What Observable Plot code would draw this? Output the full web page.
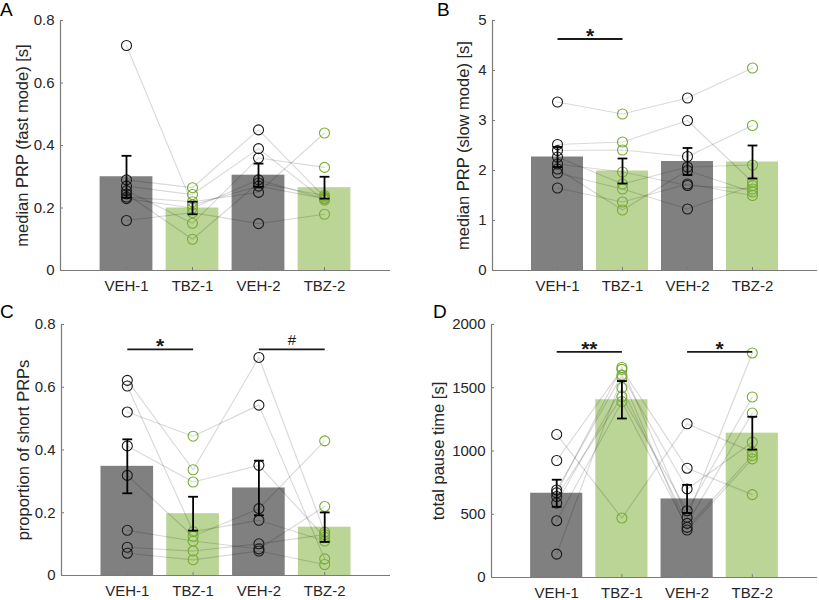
<!DOCTYPE html>
<html><head><meta charset="utf-8">
<script src="https://cdn.jsdelivr.net/npm/d3@7"></script>
<script src="https://cdn.jsdelivr.net/npm/@observablehq/plot@0.6"></script>
<style>
body{margin:0;background:#fff;}
#fig{position:relative;width:819px;height:600px;font-family:"Liberation Sans",Arial,sans-serif;overflow:hidden;}
.panel{position:absolute;}
.panel svg{overflow:visible;}
.letter{position:absolute;font-size:19px;color:#000;line-height:1;}
</style></head><body><div id="fig"></div>
<script>
// ---- categories ----
const conditions = ["VEH-1", "TBZ-1", "VEH-2", "TBZ-2"];
const groups = ["VEH", "TBZ", "VEH", "TBZ"];

// ---- Panel A: median PRP (fast mode) [s]; one value per subject (same order in each array) ----
const aVEH1 = [0.72, 0.16, 0.29, 0.27, 0.255, 0.245, 0.235, 0.23];
const aTBZ1 = [0.21, 0.185, 0.265, 0.243, 0.151, 0.10, 0.22, 0.20];
const aVEH2 = [0.27, 0.15, 0.45, 0.39, 0.36, 0.28, 0.25, 0.29];
const aTBZ2 = [0.23, 0.18, 0.235, 0.225, 0.33, 0.24, 0.44, 0.23];
const aMean = [0.30, 0.20, 0.305, 0.265];
const aSem  = [0.067, 0.02, 0.037, 0.035];

// ---- Panel B: median PRP (slow mode) [s] ----
const bVEH1 = [3.37, 2.52, 2.40, 2.27, 2.13, 2.03, 1.95, 1.65];
const bTBZ1 = [3.13, 2.57, 2.41, 1.73, 1.97, 1.21, 1.63, 1.37];
const bVEH2 = [3.45, 3.00, 2.28, 2.07, 1.70, 2.00, 1.23, 1.73];
const bTBZ2 = [4.05, 1.77, 2.90, 2.11, 1.63, 1.57, 1.70, 1.50];
const bMean = [2.27, 1.99, 2.18, 2.17];
const bSem  = [0.20, 0.25, 0.27, 0.33];

// ---- Panel C: proportion of short PRPs ----
const cVEH1 = [0.622, 0.604, 0.521, 0.413, 0.319, 0.144, 0.09, 0.071];
const cTBZ1 = [0.337, 0.14, 0.444, 0.298, 0.125, 0.11, 0.078, 0.05];
const cVEH2 = [0.695, 0.176, 0.543, 0.351, 0.213, 0.085, 0.101, 0.078];
const cTBZ2 = [0.138, 0.11, 0.053, 0.122, 0.429, 0.22, 0.13, 0.035];
const cMean = [0.348, 0.197, 0.279, 0.154];
const cSem  = [0.086, 0.054, 0.087, 0.047];

// ---- Panel D: total pause time [s] ----
const dVEH1 = [1131, 925, 692, 670, 640, 589, 449, 185];
const dTBZ1 = [470, 1645, 1600, 1660, 1430, 1500, 1390, 1580];
const dVEH2 = [1215, 864, 700, 475, 528, 428, 396, 375];
const dTBZ2 = [991, 655, 1070, 1775, 1427, 1300, 964, 938];
const dMean = [666, 1405, 621, 1141];
const dSem  = [107, 148, 111, 130];

// ---- significance annotations: [from condition, to condition, level, label] ----
const bSig = [[1, 2, 4.63, "*"]];
const cSig = [[1, 2, 0.721, "*"], [3, 4, 0.721, "#"]];
const dSig = [[1, 2, 1783, "**"], [3, 4, 1783, "*"]];

// ---- y axis ticks ----
const aTicks = [0, 0.2, 0.4, 0.6, 0.8];
const bTicks = [0, 1, 2, 3, 4, 5];
const cTicks = [0, 0.2, 0.4, 0.6, 0.8];
const dTicks = [0, 500, 1000, 1500, 2000];

const barColor = {VEH: "#808080", TBZ: "#bbd597"};
const dotColor = {VEH: "#1a1a1a", TBZ: "#77ac30"};
const axisColor = "#7a7a7a";
const textColor = "#262626";
const FONT = '"Liberation Sans", Arial, sans-serif';

function panel(cfg) {
  const {left, top, width, height, mt, mb, ml, mr, yDomain, yTicks, yLabel, series, mean, sem, sig, letter, letterX, letterY, labelDx} = cfg;
  const long = [];
  series.forEach((arr, c) => arr.forEach((v, s) => long.push({pos: c + 1, value: v, subject: s, group: groups[c]})));
  const bars = conditions.map((name, i) => ({pos: i + 1, name, mean: mean[i], sem: sem[i], group: groups[i]}));
  const capW = 0.075;
  const sigData = sig.map(([a, b, y, t]) => ({x1: a, x2: b, y, t}));
  const stars = sigData.filter(d => d.t.includes("*"));
  const others = sigData.filter(d => !d.t.includes("*"));
  const p = Plot.plot({
    width, height, marginTop: mt, marginBottom: mb, marginLeft: ml, marginRight: mr,
    style: {fontFamily: FONT, fontSize: "14px", color: textColor, background: "transparent", overflow: "visible"},
    x: {domain: [0, 5], axis: null},
    y: {domain: yDomain, axis: null},
    marks: [
      Plot.rectY(bars, {x1: d => d.pos - 0.4, x2: d => d.pos + 0.4, y1: 0, y2: "mean", fill: d => barColor[d.group]}),
      Plot.line(long, {x: "pos", y: "value", z: "subject", stroke: "#000", strokeOpacity: 0.15, strokeWidth: 1.2}),
      Plot.dot(long, {x: "pos", y: "value", r: 5, stroke: d => dotColor[d.group], fill: "none", strokeWidth: 1.1}),
      Plot.ruleX(bars, {x: "pos", y1: d => d.mean - d.sem, y2: d => d.mean + d.sem, stroke: "#000", strokeWidth: 1.8}),
      Plot.link(bars, {x1: d => d.pos - capW, x2: d => d.pos + capW, y1: d => d.mean + d.sem, y2: d => d.mean + d.sem, stroke: "#000", strokeWidth: 1.8}),
      Plot.link(bars, {x1: d => d.pos - capW, x2: d => d.pos + capW, y1: d => d.mean - d.sem, y2: d => d.mean - d.sem, stroke: "#000", strokeWidth: 1.8}),
      Plot.ruleY([yDomain[0]], {stroke: axisColor, strokeWidth: 1.2}),
      Plot.ruleX([0], {stroke: axisColor, strokeWidth: 1.2}),
      Plot.axisY({ticks: yTicks, tickFormat: d => String(d), tickSize: -3, tickPadding: 9, stroke: axisColor, fontSize: 15, fill: textColor, label: null}),
      Plot.axisX({ticks: [1, 2, 3, 4], tickFormat: i => conditions[i - 1], tickSize: -3, tickPadding: 13, stroke: axisColor, fontSize: 15, fill: textColor, label: null}),
      Plot.link(sigData, {x1: "x1", x2: "x2", y1: "y", y2: "y", stroke: "#1a1a1a", strokeWidth: 1.8}),
      Plot.text(stars, {x: d => (d.x1 + d.x2) / 2, y: "y", text: "t", dy: -3, fontSize: 21, fontWeight: "bold", fill: "#1a1a1a", lineAnchor: "middle"}),
      Plot.text(others, {x: d => (d.x1 + d.x2) / 2, y: "y", text: "t", dy: -9, fontSize: 15, fill: "#1a1a1a", lineAnchor: "middle"}),
      Plot.text([yLabel], {text: d => d, frameAnchor: "left", textAnchor: "middle", y: (yDomain[0] + yDomain[1]) / 2, dx: labelDx, rotate: -90, fontSize: 16.5, fill: textColor})
    ]
  });
  const div = document.createElement("div");
  div.className = "panel";
  div.style.left = left + "px";
  div.style.top = top + "px";
  div.appendChild(p);
  document.getElementById("fig").appendChild(div);
  const l = document.createElement("div");
  l.className = "letter";
  l.textContent = letter;
  l.style.left = letterX + "px";
  l.style.top = letterY + "px";
  document.getElementById("fig").appendChild(l);
}

panel({left: 0, top: 0, width: 410, height: 300, mt: 20, mb: 30, ml: 60, mr: 20,
  yDomain: [0, 0.8], yTicks: aTicks, yLabel: "median PRP (fast mode) [s]",
  series: [aVEH1, aTBZ1, aVEH2, aTBZ2], mean: aMean, sem: aSem, sig: [],
  letter: "A", letterX: 0, letterY: 0, labelDx: -38});
panel({left: 400, top: 0, width: 419, height: 300, mt: 20, mb: 30, ml: 92, mr: 2,
  yDomain: [0, 5], yTicks: bTicks, yLabel: "median PRP (slow mode) [s]",
  series: [bVEH1, bTBZ1, bVEH2, bTBZ2], mean: bMean, sem: bSem, sig: bSig,
  letter: "B", letterX: 437, letterY: 0, labelDx: -29});
panel({left: 0, top: 300, width: 410, height: 300, mt: 24, mb: 25, ml: 61, mr: 20,
  yDomain: [0, 0.8], yTicks: cTicks, yLabel: "proportion of short PRPs",
  series: [cVEH1, cTBZ1, cVEH2, cTBZ2], mean: cMean, sem: cSem, sig: cSig,
  letter: "C", letterX: 0, letterY: 302, labelDx: -38});
panel({left: 400, top: 300, width: 419, height: 300, mt: 24, mb: 23, ml: 91, mr: 2,
  yDomain: [0, 2000], yTicks: dTicks, yLabel: "total pause time [s]",
  series: [dVEH1, dTBZ1, dVEH2, dTBZ2], mean: dMean, sem: dSem, sig: dSig,
  letter: "D", letterX: 433, letterY: 302, labelDx: -53});
</script>
</body></html>
